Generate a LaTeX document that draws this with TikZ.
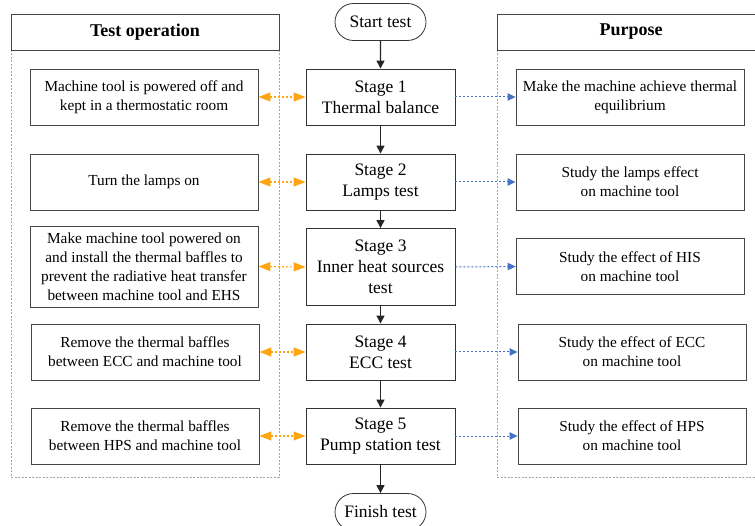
\documentclass[tikz,border=0pt]{standalone}
\usepackage{fontspec}
\setmainfont{Liberation Serif}
\usetikzlibrary{arrows.meta,shapes.misc}

\definecolor{opcolor}{RGB}{255,165,20}
\definecolor{aimcolor}{RGB}{68,114,196}
\definecolor{boxgray}{RGB}{70,70,70}

\tikzset{
  stagebox/.style={draw=black!80,line width=0.9pt,minimum width=149pt,minimum height=56pt,
    align=center,font=\fontsize{17.5}{21}\selectfont,inner sep=1pt},
  endbox/.style={draw=black!80,line width=0.8pt,rounded rectangle,minimum width=93pt,
    minimum height=37pt,font=\fontsize{17.5}{21}\selectfont,inner sep=1pt},
  sidebox/.style={draw=boxgray,line width=0.9pt,minimum width=228pt,minimum height=56pt,
    align=center,font=\fontsize{15.3}{19}\selectfont,inner sep=1pt},
  headbox/.style={draw=boxgray,line width=0.7pt,minimum width=268pt,minimum height=36pt,
    font=\fontsize{18}{20}\selectfont\bfseries},
  panel/.style={draw=gray!70,dash pattern=on 2pt off 1.5pt,line width=0.5pt},
  flow/.style={black!85,line width=1.3pt,-{Triangle[length=8pt,width=8pt]}},
  oparrow/.style={opcolor,line width=1.1pt,dash pattern=on 2pt off 2pt,
    {Triangle[length=12pt,width=9pt]}-{Triangle[length=12pt,width=9pt]}},
  aimarrow/.style={aimcolor,line width=1pt,dash pattern=on 2pt off 2pt,
    -{Triangle[length=8pt,width=7.5pt]}}
}

\begin{document}
\begin{tikzpicture}[x=1pt,y=-1pt]
\useasboundingbox (0,0) rectangle (755,526);

% panels and headers
\draw[panel] (11,50) rectangle (279,477);
\draw[panel] (497,50) rectangle (765,477);
\node (ophead) at (145,32) [headbox] {Test operation};
\node (aimhead) at (631,32) [headbox] {Purpose};

% main flow
\node (start) at (380.5,22) [endbox] {Start test};
\node (stage1) at (380.5,97) [stagebox] {Stage 1\\Thermal balance};
\node (stage2) at (380.5,182) [stagebox] {Stage 2\\Lamps test};
\node (stage3) at (380.5,267) [stagebox,minimum height=77pt] {Stage 3\\Inner heat sources\\test};
\node (stage4) at (380.5,352) [stagebox] {Stage 4\\ECC test};
\node (stage5) at (380.5,436) [stagebox] {Stage 5\\Pump station test};
\node (finish) at (380.5,512) [endbox] {Finish test};

\draw[flow] (start) -- (stage1);
\draw[flow] (stage1) -- (stage2);
\draw[flow] (stage2) -- (stage3);
\draw[flow] (stage3) -- (stage4);
\draw[flow] (stage4) -- (stage5);
\draw[flow] (stage5) -- (finish);

% test operations
\node (op1) at (144,97) [sidebox] {Machine tool is powered off and\\kept in a thermostatic room};
\node (op2) at (144,182) [sidebox] {Turn the lamps on};
\node (op3) at (144,266.5) [sidebox,minimum height=81pt] {Make machine tool powered on\\and install the thermal baffles to\\prevent the radiative heat transfer\\between machine tool and EHS};
\node (op4) at (145,352) [sidebox] {Remove the thermal baffles\\between ECC and machine tool};
\node (op5) at (145,436) [sidebox] {Remove the thermal baffles\\between HPS and machine tool};

% purposes
\node (aim1) at (630,97) [sidebox] {Make the machine achieve thermal\\equilibrium};
\node (aim2) at (630,182) [sidebox] {Study the lamps effect\\on machine tool};
\node (aim3) at (630,266.5) [sidebox] {Study the effect of HIS\\on machine tool};
\node (aim4) at (632,352) [sidebox] {Study the effect of ECC\\on machine tool};
\node (aim5) at (632,436) [sidebox] {Study the effect of HPS\\on machine tool};

\foreach \i in {1,...,5} {
  \draw[oparrow] (op\i.east) -- (stage\i.west);
  \draw[aimarrow] (stage\i.east) -- (aim\i.west);
}

\end{tikzpicture}
\end{document}
